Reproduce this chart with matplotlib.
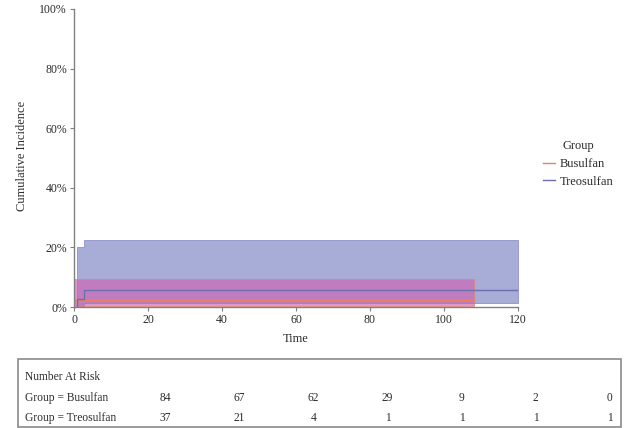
import matplotlib
matplotlib.use("Agg")
import matplotlib.pyplot as plt
import matplotlib.transforms as mtransforms
from matplotlib.patches import Rectangle

plt.rcParams["font.family"] = ["Liberation Serif", "DejaVu Serif"]

# ─── data (cumulative incidence in %, step functions) ──────────────────────
busu_t = [0, 0.3, 108]
busu_est = [0, 2.4, 2.4]
busu_lo = [0, 0.4, 0.4]
busu_hi = [0, 9.4, 9.4]

treo_t = [0, 0.8, 2.7, 120]
treo_est = [0, 2.7, 5.7, 5.7]
treo_lo = [0, 0.2, 1.3, 1.4]
treo_hi = [0, 20.0, 22.6, 22.6]

risk_times = [0, 20, 40, 60, 80, 100, 120]
risk_busu = [84, 67, 62, 29, 9, 2, 0]
risk_treo = [37, 21, 4, 1, 1, 1, 1]

y_ticks = [0, 20, 40, 60, 80, 100]
x_ticks = [0, 20, 40, 60, 80, 100, 120]

TXT = "#2b2b2b"
AXC = "#808080"

fig = plt.figure(figsize=(6.26, 4.28), dpi=100)
ax = fig.add_axes([74 / 626, 121 / 428, 444 / 626, 298 / 428])

ax.fill_between(treo_t, treo_lo, treo_hi, step="post", facecolor="#A8ADD8",
                edgecolor="#8C93CC", linewidth=0.6, zorder=1)
ax.fill_between(busu_t, busu_lo, busu_hi, step="post", facecolor="#CE62B2",
                alpha=0.65, edgecolor="#E8806A", linewidth=0.8, zorder=2)

l_busu, = ax.step(busu_t, busu_est, where="post", color="#E58264", lw=1.0,
                  zorder=3, label="Busulfan")
l_treo, = ax.step(treo_t, treo_est, where="post", color="#6A6FAE", lw=1.0,
                  zorder=3, label="Treosulfan")

ax.set_xlim(0, 120)
ax.set_ylim(0, 100)
ax.set_xticks(x_ticks)
ax.set_yticks(y_ticks)
ax.set_yticklabels([f"{v}%" for v in y_ticks])
for s in ["top", "right"]:
    ax.spines[s].set_visible(False)
for s in ["left", "bottom"]:
    ax.spines[s].set_color(AXC)
    ax.spines[s].set_linewidth(1.0)
ax.tick_params(colors=AXC, labelcolor=TXT, labelsize=8.5, length=3, width=0.8, pad=2)

ax.set_xlabel("Time", fontsize=9, color=TXT, labelpad=5)
fig.text(22 / 626, 1 - 156 / 428, "Cumulative Incidence", rotation=90,
         ha="center", va="center", fontsize=9, color=TXT)

leg = ax.legend(handles=[l_busu, l_treo], title="Group", frameon=False,
                loc="center left", bbox_to_anchor=(532 / 626, 1 - 164 / 428),
                bbox_transform=fig.transFigure, fontsize=9, title_fontsize=9,
                handlelength=0.9, handletextpad=0.45, labelspacing=0.45)
for t in leg.get_texts():
    t.set_color(TXT)
leg.get_title().set_color(TXT)

# ─── number at risk table ──────────────────────────────────────────────────
box = Rectangle((18 / 626, 1 / 428), 603 / 626, 68 / 428, transform=fig.transFigure,
                facecolor="none", edgecolor="#8a8a8a", linewidth=1.2)
fig.patches.append(box)

fs = 8.3
fig.text(25 / 626, 1 - 377 / 428, "Number At Risk", fontsize=fs, color=TXT, va="center")
fig.text(25 / 626, 1 - 398 / 428, "Group = Busulfan", fontsize=fs, color=TXT, va="center")
fig.text(25 / 626, 1 - 418 / 428, "Group = Treosulfan", fontsize=fs, color=TXT, va="center")

col_tr = mtransforms.blended_transform_factory(ax.transData, fig.transFigure) + \
    mtransforms.ScaledTranslation(0.915, 0, fig.dpi_scale_trans)
for t, b, r in zip(risk_times, risk_busu, risk_treo):
    fig.text(t, 1 - 398 / 428, str(b), transform=col_tr, ha="center", va="center",
             fontsize=fs, color=TXT)
    fig.text(t, 1 - 418 / 428, str(r), transform=col_tr, ha="center", va="center",
             fontsize=fs, color=TXT)

plt.savefig("out.png", dpi=100)
plt.close()
